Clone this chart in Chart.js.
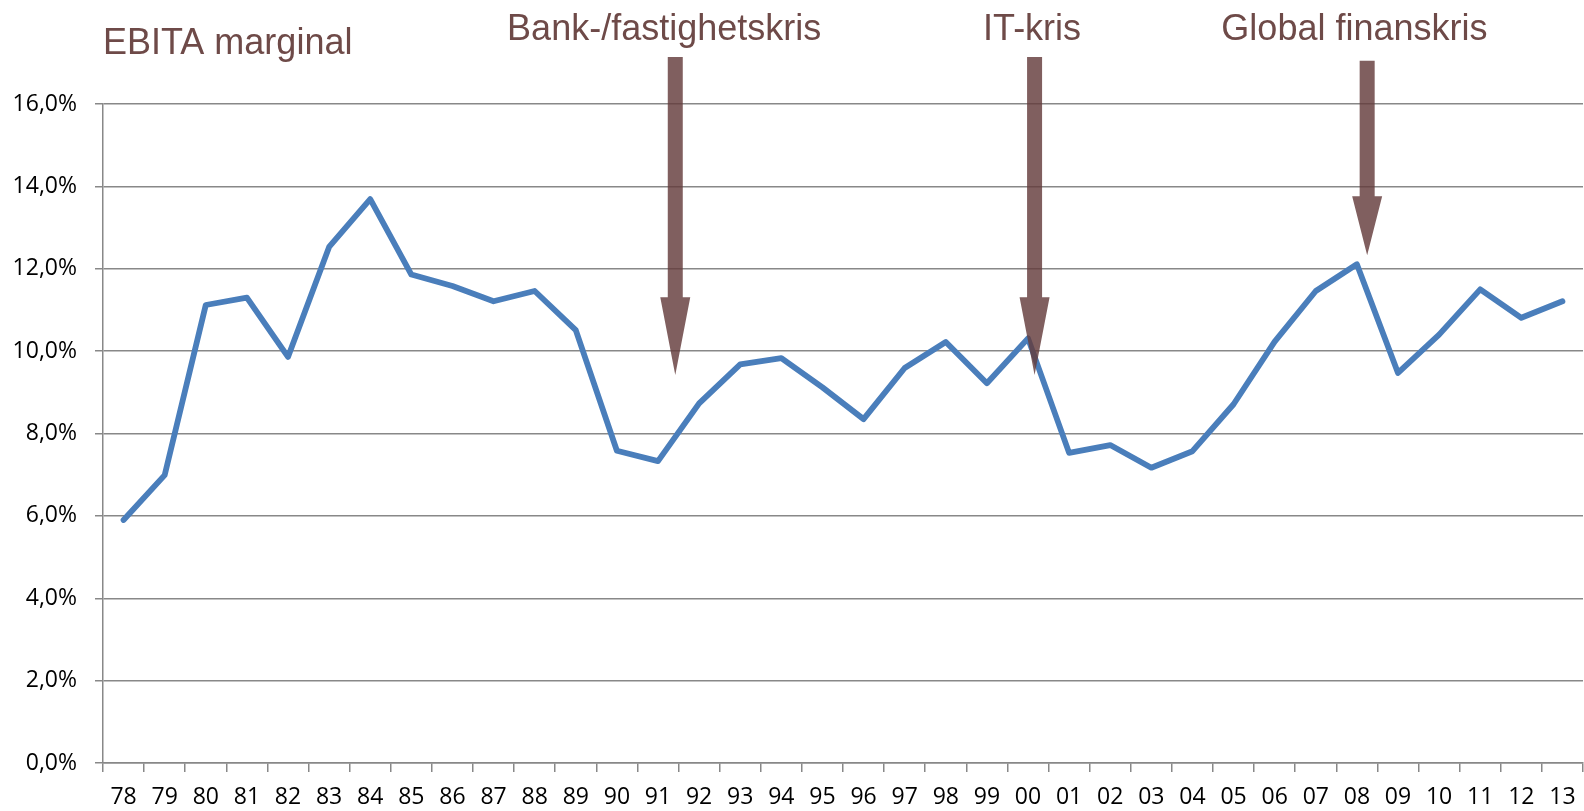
<!DOCTYPE html>
<html>
<head>
<meta charset="utf-8">
<script src="https://cdn.jsdelivr.net/npm/chart.js@4/dist/chart.umd.min.js"></script>
<style>
  html, body { margin: 0; padding: 0; background: #fff; }
  #wrap { width: 1584px; height: 811px; position: relative; }
</style>
</head>
<body>
<div id="wrap"><canvas id="marginChart"></canvas></div>
<script>
// EBITA marginal per år, 1978-2013
const years = ['78','79','80','81','82','83','84','85','86','87','88','89','90','91','92','93','94','95','96','97','98','99','00','01','02','03','04','05','06','07','08','09','10','11','12','13'];
const ebitaMargin = [5.90, 6.99, 11.12, 11.30, 9.86, 12.53, 13.69, 11.86, 11.58, 11.21, 11.46, 10.51, 7.58, 7.33, 8.73, 9.68, 9.83, 9.12, 8.35, 9.59, 10.22, 9.22, 10.31, 7.53, 7.72, 7.17, 7.57, 8.71, 10.23, 11.46, 12.11, 9.47, 10.40, 11.50, 10.81, 11.21];
const yTicks = [0, 2, 4, 6, 8, 10, 12, 14, 16];

// crises: label, label position (category index), arrow position (category index),
// arrow tip / head start / shaft top in %-units
const crisisLabels = ['Bank-/fastighetskris', 'IT-kris', 'Global finanskris'];
const crisisLabelAt = [13.15, 22.1, 29.94];
const crisisArrowAt = [13.42, 22.16, 30.25];
const crisisTip = [9.42, 9.42, 12.33];
const crisisHead = [11.31, 11.31, 13.76];
const crisisTop = [17.14, 17.14, 17.05];

const chartTitle = 'EBITA marginal';

const brown = '#6e4a48';
const arrowFill = 'rgba(100,60,60,0.82)';

const annotations = {
  id: 'annotations',
  afterDatasetsDraw(chart) {
    const { ctx, chartArea, scales: { x, y } } = chart;
    ctx.save();
    // arrows
    ctx.fillStyle = arrowFill;
    crisisArrowAt.forEach((pos, i) => {
      const cx = x.getPixelForValue(pos);
      const tipY = y.getPixelForValue(crisisTip[i]);
      const headY = y.getPixelForValue(crisisHead[i]);
      const topY = y.getPixelForValue(crisisTop[i]);
      ctx.beginPath();
      ctx.moveTo(cx - 7.5, topY);
      ctx.lineTo(cx + 7.5, topY);
      ctx.lineTo(cx + 7.5, headY);
      ctx.lineTo(cx + 15, headY);
      ctx.lineTo(cx, tipY);
      ctx.lineTo(cx - 15, headY);
      ctx.lineTo(cx - 7.5, headY);
      ctx.closePath();
      ctx.fill();
    });
    // texts
    ctx.fillStyle = brown;
    ctx.font = '36px "Liberation Sans", Arial, sans-serif';
    ctx.textBaseline = 'alphabetic';
    ctx.textAlign = 'left';
    ctx.fillText(chartTitle, chartArea.left, 54);
    ctx.textAlign = 'center';
    crisisLabels.forEach((txt, i) => {
      ctx.fillText(txt, x.getPixelForValue(crisisLabelAt[i]), 40);
    });
    ctx.restore();
  }
};

const gridGray = '#888888';

new Chart(document.getElementById('marginChart'), {
  type: 'line',
  data: {
    labels: years,
    datasets: [{
      label: chartTitle,
      data: ebitaMargin,
      borderColor: '#4a7ebb',
      borderWidth: 5.8,
      borderJoinStyle: 'round',
      borderCapStyle: 'round',
      pointRadius: 0,
      tension: 0,
      fill: false
    }]
  },
  options: {
    responsive: true,
    maintainAspectRatio: false,
    animation: false,
    layout: { padding: { top: 104, right: 1, left: 0, bottom: 0 } },
    plugins: {
      legend: { display: false },
      tooltip: { enabled: false },
      title: { display: false }
    },
    scales: {
      x: {
        offset: true,
        grid: { offset: true, drawOnChartArea: false, drawTicks: true, tickLength: 9, color: gridGray, lineWidth: 1.5 },
        border: { color: gridGray, width: 1.5 },
        ticks: { color: '#000', font: { family: '"Open Sans", sans-serif', size: 23 }, padding: 12, maxRotation: 0, autoSkip: false },
        afterFit: (s) => { s.height = 48; s.paddingLeft = 0; s.paddingRight = 0; }
      },
      y: {
        min: 0,
        max: 16,
        afterBuildTicks: (s) => { s.ticks = yTicks.map(v => ({ value: v })); },
        grid: { color: gridGray, lineWidth: 1.5, tickLength: 8 },
        border: { color: gridGray, width: 1.5 },
        ticks: {
          color: '#000',
          font: { family: '"Open Sans", sans-serif', size: 23 },
          padding: 18,
          callback: (v) => v.toFixed(1).replace('.', ',') + '%'
        },
        afterFit: (s) => { s.width = 103; s.paddingTop = 0; s.paddingBottom = 0; }
      }
    }
  },
  plugins: [annotations]
});
</script>
</body>
</html>
